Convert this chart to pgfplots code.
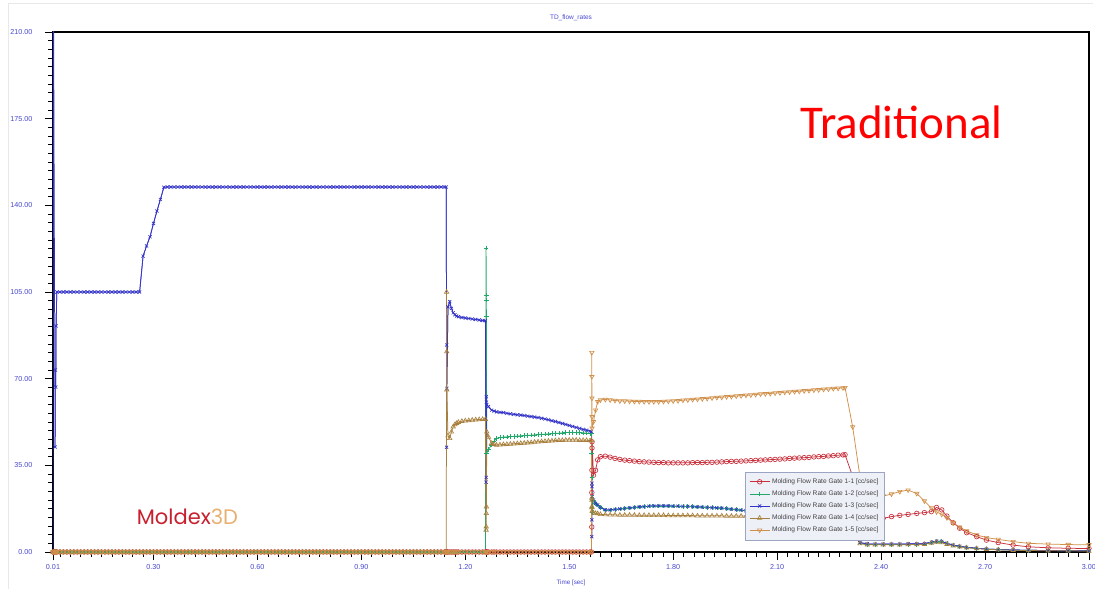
\documentclass[border=0pt]{standalone}
\usepackage{pgfplots}
\pgfplotsset{compat=1.18}
\usepackage{pgfplotstable}
\usepackage{fontspec}
\setmainfont{Liberation Sans}
\newfontfamily\calibrifont{Carlito}
\newfontfamily\logofont{Poppins}

\definecolor{gateA}{HTML}{C8303C}
\definecolor{gateB}{HTML}{22A86A}
\definecolor{gateC}{HTML}{3434C8}
\definecolor{gateD}{HTML}{A8803C}
\definecolor{gateE}{HTML}{D0904A}
\definecolor{tickblue}{HTML}{4848D0}
\definecolor{legfill}{HTML}{EEF0F8}
\definecolor{legdraw}{HTML}{9CA4C4}
\definecolor{logored}{HTML}{C8202E}
\definecolor{logoorange}{HTML}{E8B070}

% Flow rate per gate [cc/sec] against time [sec]
\pgfplotstableread{
t      g1    g2    g3     g4     g5
0.010  0     0     0      0      0
0.011  0     0     250    0      0
0.016  0     0     42.4   0      0
0.017  0     0     73.5   0      0
0.018  0     0     66.6   0      0
0.019  0     0     91.3   0      0
0.021  0     0     105.0  0      0
0.03   0     0     105.0  0      0
0.04   0     0     105.0  0      0
0.05   0     0     105.0  0      0
0.06   0     0     105.0  0      0
0.07   0     0     105.0  0      0
0.08   0     0     105.0  0      0
0.09   0     0     105.0  0      0
0.10   0     0     105.0  0      0
0.11   0     0     105.0  0      0
0.12   0     0     105.0  0      0
0.13   0     0     105.0  0      0
0.14   0     0     105.0  0      0
0.15   0     0     105.0  0      0
0.16   0     0     105.0  0      0
0.17   0     0     105.0  0      0
0.18   0     0     105.0  0      0
0.19   0     0     105.0  0      0
0.20   0     0     105.0  0      0
0.21   0     0     105.0  0      0
0.22   0     0     105.0  0      0
0.23   0     0     105.0  0      0
0.24   0     0     105.0  0      0
0.25   0     0     105.0  0      0
0.26   0     0     105.0  0      0
0.27   0     0     119.5  0      0
0.28   0     0     123.6  0      0
0.29   0     0     127.3  0      0
0.30   0     0     132.7  0      0
0.31   0     0     137.7  0      0
0.32   0     0     142.4  0      0
0.33   0     0     147.3  0      0
0.34   0     0     147.4  0      0
0.35   0     0     147.4  0      0
0.36   0     0     147.4  0      0
0.37   0     0     147.4  0      0
0.38   0     0     147.4  0      0
0.39   0     0     147.4  0      0
0.40   0     0     147.4  0      0
0.41   0     0     147.4  0      0
0.42   0     0     147.4  0      0
0.43   0     0     147.4  0      0
0.44   0     0     147.4  0      0
0.45   0     0     147.4  0      0
0.46   0     0     147.4  0      0
0.47   0     0     147.4  0      0
0.48   0     0     147.4  0      0
0.49   0     0     147.4  0      0
0.50   0     0     147.4  0      0
0.51   0     0     147.4  0      0
0.52   0     0     147.4  0      0
0.53   0     0     147.4  0      0
0.54   0     0     147.4  0      0
0.55   0     0     147.4  0      0
0.56   0     0     147.4  0      0
0.57   0     0     147.4  0      0
0.58   0     0     147.4  0      0
0.59   0     0     147.4  0      0
0.60   0     0     147.4  0      0
0.61   0     0     147.4  0      0
0.62   0     0     147.4  0      0
0.63   0     0     147.4  0      0
0.64   0     0     147.4  0      0
0.65   0     0     147.4  0      0
0.66   0     0     147.4  0      0
0.67   0     0     147.4  0      0
0.68   0     0     147.4  0      0
0.69   0     0     147.4  0      0
0.70   0     0     147.4  0      0
0.71   0     0     147.4  0      0
0.72   0     0     147.4  0      0
0.73   0     0     147.4  0      0
0.74   0     0     147.4  0      0
0.75   0     0     147.4  0      0
0.76   0     0     147.4  0      0
0.77   0     0     147.4  0      0
0.78   0     0     147.4  0      0
0.79   0     0     147.4  0      0
0.80   0     0     147.4  0      0
0.81   0     0     147.4  0      0
0.82   0     0     147.4  0      0
0.83   0     0     147.4  0      0
0.84   0     0     147.4  0      0
0.85   0     0     147.4  0      0
0.86   0     0     147.4  0      0
0.87   0     0     147.4  0      0
0.88   0     0     147.4  0      0
0.89   0     0     147.4  0      0
0.90   0     0     147.4  0      0
0.91   0     0     147.4  0      0
0.92   0     0     147.4  0      0
0.93   0     0     147.4  0      0
0.94   0     0     147.4  0      0
0.95   0     0     147.4  0      0
0.96   0     0     147.4  0      0
0.97   0     0     147.4  0      0
0.98   0     0     147.4  0      0
0.99   0     0     147.4  0      0
1.00   0     0     147.4  0      0
1.01   0     0     147.4  0      0
1.02   0     0     147.4  0      0
1.03   0     0     147.4  0      0
1.04   0     0     147.4  0      0
1.05   0     0     147.4  0      0
1.06   0     0     147.4  0      0
1.07   0     0     147.4  0      0
1.08   0     0     147.4  0      0
1.09   0     0     147.4  0      0
1.10   0     0     147.4  0      0
1.11   0     0     147.4  0      0
1.12   0     0     147.4  0      0
1.13   0     0     147.4  0      0
1.14   0     0     147.4  0      0
1.145  0     0     147.4  0      0
1.146  0     0     42.3   105.0  0
1.1463 0     0     83.6   80.9   0
1.1466 0     0     66.1   65.5   0
1.150  0     0     99.0   47.0   0
1.155  0     0     101.1  45.9   0
1.160  0     0     98.4   48.5   0
1.165  0     0     96.6   50.6   0
1.170  0     0     95.8   51.5   0
1.175  0     0     95.3   52.0   0
1.180  0     0     95.0   52.4   0
1.190  0     0     94.7   52.8   0
1.200  0     0     94.5   53.0   0
1.210  0     0     94.3   53.1   0
1.220  0     0     94.1   53.3   0
1.230  0     0     93.9   53.4   0
1.240  0     0     93.7   53.5   0
1.250  0     0     93.5   53.6   0
1.258  0     0     93.4   53.6   0
1.260  0     122.8 28.2   8.9    0
1.2603 0     103.8 30.1   10.2   0
1.2606 0     101.8 62.7   15.6   0
1.2609 0     95.0  60.5   18.3   0
1.262  0     39.9  59.5   48.5   0
1.267  0     41.5  58.7   46.4   0
1.276  0     43.2  57.3   43.9   0
1.283  0     44.8  56.9   43.5   0
1.290  0     45.9  56.6   43.2   0
1.30   0     46.2  56.4   43.3   0
1.31   0     46.4  56.3   43.4   0
1.32   0     46.5  56.0   43.5   0
1.33   0     46.6  55.8   43.6   0
1.34   0     46.7  55.6   43.7   0
1.35   0     46.8  55.4   43.8   0
1.36   0     46.9  55.3   43.9   0
1.37   0     47.0  55.1   44.0   0
1.38   0     47.1  54.9   44.1   0
1.39   0     47.2  54.7   44.2   0
1.40   0     47.3  54.5   44.4   0
1.41   0     47.4  54.3   44.5   0
1.42   0     47.5  54.0   44.6   0
1.43   0     47.6  53.7   44.7   0
1.44   0     47.7  53.4   44.8   0
1.45   0     47.8  53.0   44.9   0
1.46   0     47.9  52.7   45.0   0
1.47   0     48.0  52.3   45.1   0
1.48   0     48.1  51.9   45.1   0
1.49   0     48.3  51.5   45.2   0
1.50   0     48.3  51.1   45.2   0
1.51   0     48.3  50.7   45.2   0
1.52   0     48.2  50.3   45.2   0
1.53   0     48.2  49.9   45.1   0
1.54   0     48.1  49.5   45.1   0
1.55   0     48.0  49.2   45.1   0
1.56   0     47.9  48.8   45.0   0
1.564  0     47.9  48.6   45.0   0
1.5650 10.1  40.0  6.2    21.8   80.5
1.5652 24.0  30.0  13.0   18.3   70.8
1.5654 33.0  22.0  27.8   21.0   62.1
1.5656 42.0  18.0  26.4   18.0   54.6
1.5658 44.5  16.0  22.3   16.5   50.0
1.570  31.0  21.0  21.0   15.8   52.6
1.576  33.0  19.7  19.7   15.6   57.3
1.582  37.2  19.0  19.0   15.5   60.7
1.590  38.5  18.0  18.0   15.2   61.4
1.604  38.7  17.0  17.0   15.1   61.6
1.618  38.3  17.0  17.0   15.0   61.4
1.632  37.8  17.2  17.2   15.0   61.2
1.646  37.4  17.4  17.4   14.9   61.0
1.660  37.1  17.6  17.6   14.9   61.0
1.674  36.9  17.8  17.8   14.9   60.9
1.688  36.7  18.0  18.0   14.9   60.8
1.702  36.5  18.2  18.2   14.8   60.8
1.716  36.4  18.3  18.3   14.8   60.7
1.730  36.3  18.5  18.5   14.8   60.7
1.744  36.2  18.6  18.6   14.8   60.7
1.758  36.1  18.6  18.6   14.8   60.7
1.772  36.1  18.6  18.6   14.8   60.8
1.786  36.0  18.6  18.6   14.7   60.9
1.800  36.0  18.5  18.5   14.7   61.0
1.814  36.0  18.5  18.5   14.7   61.1
1.828  36.0  18.4  18.4   14.7   61.3
1.842  36.0  18.4  18.4   14.7   61.4
1.856  36.1  18.3  18.3   14.7   61.6
1.870  36.1  18.2  18.2   14.6   61.7
1.884  36.1  18.1  18.1   14.6   61.9
1.898  36.2  18.0  18.0   14.6   62.0
1.912  36.2  17.9  17.9   14.6   62.2
1.926  36.3  17.8  17.8   14.6   62.4
1.940  36.4  17.7  17.7   14.6   62.5
1.954  36.5  17.5  17.5   14.5   62.7
1.968  36.6  17.3  17.3   14.5   62.8
1.982  36.6  17.1  17.1   14.5   63.0
1.996  36.7  16.9  16.9   14.5   63.1
2.010  36.8  16.7  16.7   14.5   63.3
2.024  36.9  16.6  16.6   14.5   63.4
2.038  37.0  16.5  16.5   14.5   63.6
2.052  37.1  16.4  16.4   14.4   63.8
2.066  37.2  16.4  16.4   14.4   63.9
2.080  37.3  16.3  16.3   14.4   64.0
2.094  37.4  16.3  16.3   14.4   64.2
2.108  37.5  16.2  16.2   14.4   64.3
2.122  37.6  16.2  16.2   14.4   64.5
2.136  37.8  16.1  16.1   14.4   64.6
2.150  37.9  16.1  16.1   14.4   64.8
2.164  38.0  16.0  16.0   14.3   64.9
2.178  38.1  16.0  16.0   14.3   65.1
2.192  38.2  16.0  16.0   14.3   65.2
2.206  38.4  15.9  15.9   14.3   65.4
2.220  38.5  15.9  15.9   14.3   65.5
2.234  38.6  15.9  15.9   14.3   65.7
2.248  38.8  15.8  15.8   14.3   65.8
2.262  38.9  15.8  15.8   14.3   66.0
2.276  39.1  15.8  15.8   14.3   66.1
2.290  39.2  15.7  15.7   14.3   66.3
2.296  39.3  15.7  15.7   14.3   66.4
2.318  30.5  8.0   9.0    7.5    50.5
2.339  20.0  3.6   3.8    3.4    30.4
2.360  14.0  3.1   3.3    2.9    23.0
2.383  13.5  3.0   3.2    2.9    22.3
2.406  13.6  3.0   3.2    2.9    22.6
2.430  14.3  3.0   3.2    2.9    23.4
2.454  14.8  3.0   3.2    2.9    24.4
2.478  15.2  3.1   3.3    3.0    25.0
2.503  15.6  3.1   3.3    3.0    23.6
2.525  15.9  3.2   3.4    3.1    20.6
2.545  16.3  3.8   4.0    3.6    17.8
2.560  18.0  4.3   4.4    4.0    16.2
2.575  17.0  4.2   4.3    3.8    15.2
2.590  14.5  3.4   3.5    3.1    13.8
2.608  11.8  2.8   2.8    2.5    11.8
2.627  9.6   2.3   2.3    2.1    10.0
2.647  7.8   1.9   1.9    1.7    8.5
2.676  6.2   1.5   1.5    1.4    6.9
2.704  4.8   1.2   1.2    1.1    5.8
2.738  3.8   1.0   1.0    0.9    5.1
2.781  2.8   0.8   0.8    0.7    4.2
2.825  2.1   0.7   0.7    0.6    3.5
2.882  1.7   0.6   0.6    0.5    3.2
2.940  1.5   0.5   0.5    0.5    3.0
3.000  1.4   0.5   0.5    0.4    2.9
}\flowdata

\begin{document}
\begin{tikzpicture}
\useasboundingbox (0,0) rectangle (1095pt,589pt);
\draw[gray!18, line width=0.6pt] (8pt,0pt) -- (8pt,586pt) -- (1093pt,586pt);
\begin{axis}[
  at={(53pt,37pt)}, anchor=south west,
  scale only axis, width=1036pt, height=520pt,
  xmin=0.01, xmax=3.0, ymin=0, ymax=210,
  xtick={0.01,0.30,0.60,0.90,1.20,1.50,1.80,2.10,2.40,2.70,3.00},
  xticklabels={0.01,0.30,0.60,0.90,1.20,1.50,1.80,2.10,2.40,2.70,3.00},
  minor xtick={0.03,0.06,...,2.98},
  ytick={0,35,70,105,140,175,210},
  yticklabels={0.00,35.00,70.00,105.00,140.00,175.00,210.00},
  minor y tick num=9,
  tick align=outside, tick pos=left,
  major tick length=8pt, minor tick length=5pt,
  every tick/.style={black, line width=0.6pt},
  axis line style={black, line width=1.1pt},
  tick label style={font=\fontsize{7.2}{8}\selectfont, text=tickblue},
  xticklabel style={anchor=center, yshift=-7pt},
  yticklabel style={anchor=east, xshift=-9pt},
  title={TD\_flow\_rates},
  title style={at={(0.5,1)}, anchor=center, yshift=8pt, font=\fontsize{6.5}{8}\selectfont, text=tickblue},
  xlabel={Time [sec]},
  xlabel style={at={(0.5,0)}, anchor=center, yshift=-31pt, font=\fontsize{6.3}{8}\selectfont, text=tickblue},
  legend style={at={(0.668,0.154)}, anchor=north west, fill=legfill, draw=legdraw,
    font=\fontsize{6.6}{7}\selectfont, text=black!75, inner xsep=4pt, inner ysep=4.5pt,
    row sep=1.8pt, line width=0.5pt},
  legend cell align=left,
  legend image code/.code={%
    \draw[mark repeat=2, mark phase=2] plot coordinates {(0pt,0pt) (10pt,0pt) (20pt,0pt)};},
  every axis plot/.append style={line width=0.75pt},
]
\addplot[gateA, mark=o, mark size=2.3pt, mark options={line width=0.65pt}]
  table[x=t, y=g1] {\flowdata};
\addlegendentry{Molding Flow Rate Gate 1-1 [cc/sec]}
\addplot[gateB, mark=+, mark size=2.3pt, mark options={line width=0.65pt}]
  table[x=t, y=g2] {\flowdata};
\addlegendentry{Molding Flow Rate Gate 1-2 [cc/sec]}
% the opening surge of gate 1-3 runs off the top: line only, clipped
\addplot[gateC, mark=none, forget plot] table[x=t, y=g3] {\flowdata};
\addplot[gateC, mark=x, mark size=2.2pt, mark options={line width=0.65pt},
  restrict y to domain=-10:215]
  table[x=t, y=g3] {\flowdata};
\addlegendentry{Molding Flow Rate Gate 1-3 [cc/sec]}
\addplot[gateD, mark=triangle, mark size=2.5pt, mark options={line width=0.65pt}]
  table[x=t, y=g4] {\flowdata};
\addlegendentry{Molding Flow Rate Gate 1-4 [cc/sec]}
\addplot[gateE, mark=triangle, mark size=2.5pt, mark options={line width=0.65pt, rotate=180}]
  table[x=t, y=g5] {\flowdata};
\addlegendentry{Molding Flow Rate Gate 1-5 [cc/sec]}
\end{axis}
\node[anchor=base west, inner sep=0pt, text=red, font=\calibrifont\fontsize{47}{50}\selectfont]
  at (800pt,450.7pt) {Traditional};
\node[anchor=base west, inner sep=0pt, font=\logofont\fontsize{21}{24}\selectfont]
  at (136.7pt,64.7pt) {\textcolor{logored}{Moldex}\textcolor{logoorange}{3D}};
\end{tikzpicture}
\end{document}
